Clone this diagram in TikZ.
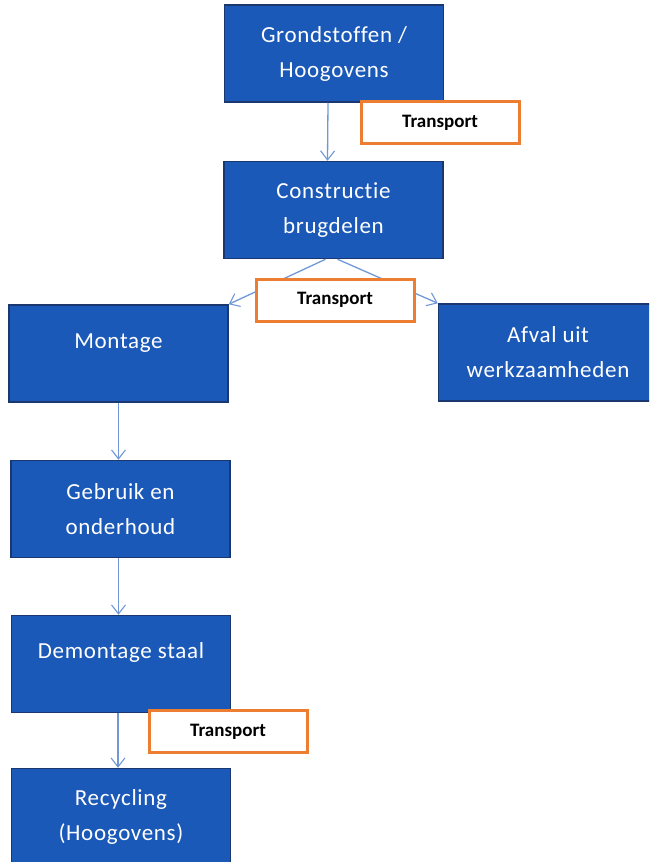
\documentclass[tikz,border=0pt]{standalone}
\usepackage{fontspec}
\setmainfont{Carlito}[Ligatures=NoCommon]
\newfontfamily\stapfont{Carlito}[Ligatures=NoCommon, LetterSpace=3]
\usetikzlibrary{arrows.meta}

\definecolor{stapblauw}{RGB}{27,89,184}
\definecolor{randblauw}{RGB}{26,55,112}
\definecolor{pijlblauw}{RGB}{112,152,214}
\definecolor{transportoranje}{RGB}{237,125,49}

\begin{document}
\begin{tikzpicture}[x=1pt, y=-1pt,
    stap/.style={draw=randblauw, line width=1.5pt, fill=stapblauw, text=white,
        minimum width=219pt, minimum height=97pt, align=center,
        font=\stapfont\fontsize{23}{35}\selectfont},
    eenregel/.style={text height=15pt, text depth=26pt},
    transportbox/.style={draw=transportoranje, line width=3pt, fill=white,
        minimum width=158pt, minimum height=42pt, font=\fontsize{19}{20}\selectfont\bfseries},
    stroom/.style={draw=pijlblauw, line width=1.3pt,
        -{Straight Barb[length=9pt, width=14pt, line width=1.1pt]}}]

    % --- kader en bijsnijden ---
    \useasboundingbox (0,0) rectangle (649,862);
    \clip (0,0) rectangle (649,862);

    % --- stappen ---
    \node[stap] (grond)  at (334, 53.5) {Grondstoffen /\\Hoogovens};
    \node[stap] (constr) at (333.5, 210) {Constructie\\brugdelen};
    \node[stap, eenregel] (montage) at (118.5, 353.5) {Montage};
    \node[stap] (afval)  at (548, 352.5) {Afval uit\\werkzaamheden};
    \node[stap] (gebruik) at (120.5, 509) {Gebruik en\\onderhoud};
    \node[stap, eenregel] (demont) at (121, 664) {Demontage staal};
    \node[stap] (recycl) at (121, 817) {Recycling\\(Hoogovens)};

    % --- pijlen ---
    \draw[stroom] ([xshift=-6pt]grond.south) -- ([xshift=-6pt]constr.north);
    \draw[stroom] ([xshift=-8pt]constr.south) -- (montage.north east);
    \draw[stroom] ([xshift=4pt]constr.south) -- (afval.north west);
    \draw[stroom] (montage.south) -- (montage.south |- gebruik.north);
    \draw[stroom] ([xshift=-2pt]gebruik.south) -- ([xshift=-2pt]gebruik.south |- demont.north);
    \draw[stroom] ([xshift=-3pt]demont.south) -- ([xshift=-3pt]demont.south |- recycl.north);

    % --- transport ---
    \node[transportbox] (trans1) at (440, 122.5) {Transport};
    \node[transportbox] (trans2) at (335, 300) {Transport};
    \node[transportbox] (trans3) at (228, 731.5) {Transport};

\end{tikzpicture}
\end{document}
